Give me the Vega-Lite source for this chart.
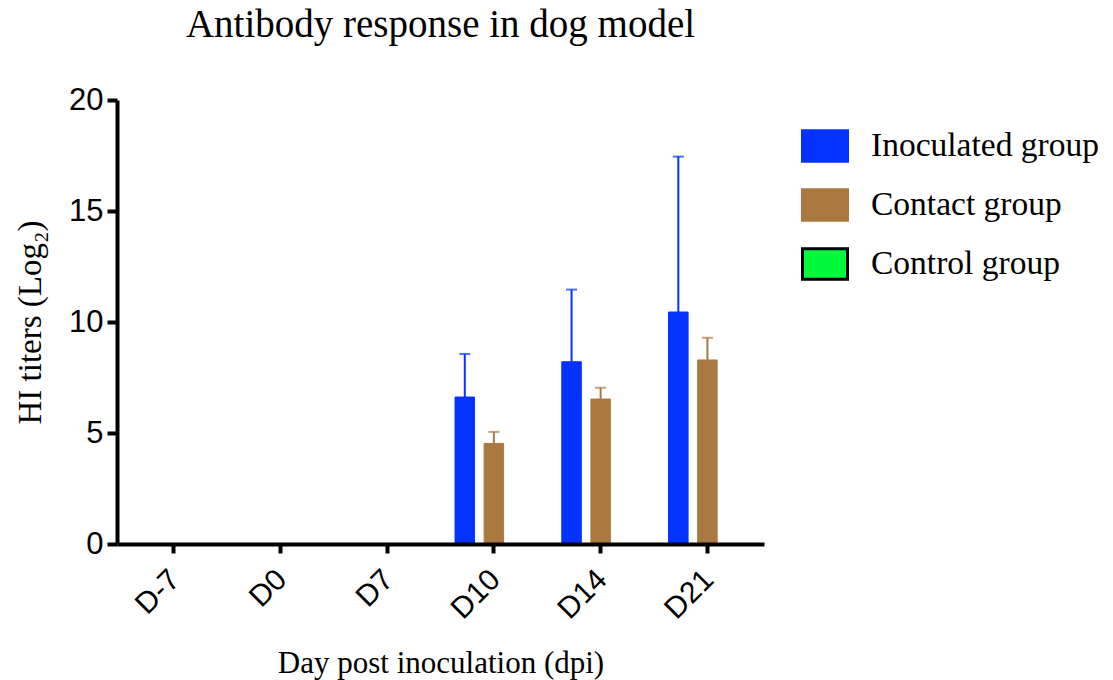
{
  "$schema": "https://vega.github.io/schema/vega-lite/v6.json",
  "width": 647,
  "height": 444,
  "autosize": {"type": "none"},
  "padding": {"left": 117, "top": 100, "right": 349, "bottom": 136},
  "background": "white",
  "title": {
    "text": "Antibody response in dog model",
    "font": "Liberation Serif",
    "fontSize": 39,
    "fontWeight": "normal",
    "color": "black",
    "anchor": "middle",
    "offset": 39
  },
  "config": {
    "view": {"stroke": null},
    "axis": {"grid": false}
  },
  "datasets": {
    "bars": [
      {"day": "D-7", "group": "Inoculated group", "value": 0},
      {"day": "D-7", "group": "Contact group", "value": 0},
      {"day": "D-7", "group": "Control group", "value": 0},
      {"day": "D0", "group": "Inoculated group", "value": 0},
      {"day": "D0", "group": "Contact group", "value": 0},
      {"day": "D0", "group": "Control group", "value": 0},
      {"day": "D7", "group": "Inoculated group", "value": 0},
      {"day": "D7", "group": "Contact group", "value": 0},
      {"day": "D7", "group": "Control group", "value": 0},
      {"day": "D10", "group": "Inoculated group", "value": 6.62},
      {"day": "D10", "group": "Contact group", "value": 4.53},
      {"day": "D10", "group": "Control group", "value": 0},
      {"day": "D14", "group": "Inoculated group", "value": 8.21},
      {"day": "D14", "group": "Contact group", "value": 6.53},
      {"day": "D14", "group": "Control group", "value": 0},
      {"day": "D21", "group": "Inoculated group", "value": 10.45},
      {"day": "D21", "group": "Contact group", "value": 8.29},
      {"day": "D21", "group": "Control group", "value": 0}
    ],
    "errors": [
      {"day": "D10", "group": "Inoculated group", "value": 6.62, "upper": 8.56},
      {"day": "D10", "group": "Contact group", "value": 4.53, "upper": 5.05},
      {"day": "D14", "group": "Inoculated group", "value": 8.21, "upper": 11.46},
      {"day": "D14", "group": "Contact group", "value": 6.53, "upper": 7.04},
      {"day": "D21", "group": "Inoculated group", "value": 10.45, "upper": 17.45},
      {"day": "D21", "group": "Contact group", "value": 8.29, "upper": 9.29}
    ]
  },
  "encoding": {
    "x": {
      "field": "day",
      "type": "nominal",
      "sort": ["D-7", "D0", "D7", "D10", "D14", "D21"],
      "scale": {"paddingInner": 0, "paddingOuter": 0.03},
      "axis": {
        "zindex": 1,
        "title": "Day post inoculation (dpi)",
        "titleFont": "Liberation Serif",
        "titleFontSize": 31,
        "titleFontWeight": "normal",
        "titleColor": "black",
        "titlePadding": 24,
        "labelFont": "Liberation Sans",
        "labelFontSize": 30,
        "labelColor": "black",
        "labelAngle": -45,
        "labelPadding": 11,
        "labelOffset": -9,
        "domainColor": "black",
        "domainWidth": 4,
        "tickColor": "black",
        "tickWidth": 4,
        "tickSize": 9
      }
    },
    "xOffset": {
      "field": "group",
      "type": "nominal",
      "sort": ["Inoculated group", "Contact group", "Control group"],
      "scale": {"paddingInner": 0.33, "paddingOuter": 0.5}
    }
  },
  "layer": [
    {
      "data": {"name": "bars"},
      "mark": {"type": "bar", "strokeWidth": 1},
      "encoding": {
        "y": {
          "field": "value",
          "type": "quantitative",
          "scale": {"domain": [0, 20], "nice": false},
          "axis": {
            "zindex": 1,
            "values": [0, 5, 10, 15, 20],
            "title": "HI titers (Log₂)",
            "titleFont": "Liberation Serif",
            "titleFontSize": 33,
            "titleFontWeight": "normal",
            "titleColor": "black",
            "titlePadding": 21,
            "labelFont": "Liberation Sans",
            "labelFontSize": 31,
            "labelColor": "black",
            "labelPadding": 4,
            "domainColor": "black",
            "domainWidth": 4,
            "tickColor": "black",
            "tickWidth": 4,
            "tickSize": 10
          }
        },
        "fill": {
          "field": "group",
          "type": "nominal",
          "sort": ["Inoculated group", "Contact group", "Control group"],
          "scale": {
            "domain": ["Inoculated group", "Contact group", "Control group"],
            "range": ["#0433FF", "#AA7942", "#00F93A"]
          },
          "legend": {
            "title": null,
            "orient": "none",
            "legendX": 684,
            "legendY": 22,
            "labelFont": "Liberation Serif",
            "labelFontSize": 33.5,
            "labelColor": "black",
            "labelLimit": 400,
            "labelOffset": 22,
            "symbolType": "M-1,-0.68H1V0.68H-1Z",
            "symbolSize": 2025,
            "symbolStrokeWidth": 3,
            "symbolOpacity": 1,
            "rowPadding": 13
          }
        },
        "stroke": {
          "field": "group",
          "type": "nominal",
          "sort": ["Inoculated group", "Contact group", "Control group"],
          "scale": {
            "domain": ["Inoculated group", "Contact group", "Control group"],
            "range": ["#0433FF", "#AA7942", "black"]
          }
        }
      }
    },
    {
      "data": {"name": "errors"},
      "mark": {"type": "rule", "strokeWidth": 2},
      "encoding": {
        "y": {"field": "value", "type": "quantitative"},
        "y2": {"field": "upper"},
        "color": {
          "field": "group",
          "type": "nominal",
          "scale": {
            "domain": ["Inoculated group", "Contact group", "Control group"],
            "range": ["#0433FF", "#AA7942", "#00F93A"]
          },
          "legend": null
        }
      }
    },
    {
      "data": {"name": "errors"},
      "mark": {"type": "tick", "orient": "horizontal", "size": 11, "thickness": 2},
      "encoding": {
        "y": {"field": "upper", "type": "quantitative"},
        "color": {
          "field": "group",
          "type": "nominal",
          "scale": {
            "domain": ["Inoculated group", "Contact group", "Control group"],
            "range": ["#0433FF", "#AA7942", "#00F93A"]
          },
          "legend": null
        }
      }
    }
  ],
  "resolve": {"scale": {"color": "independent"}}
}
